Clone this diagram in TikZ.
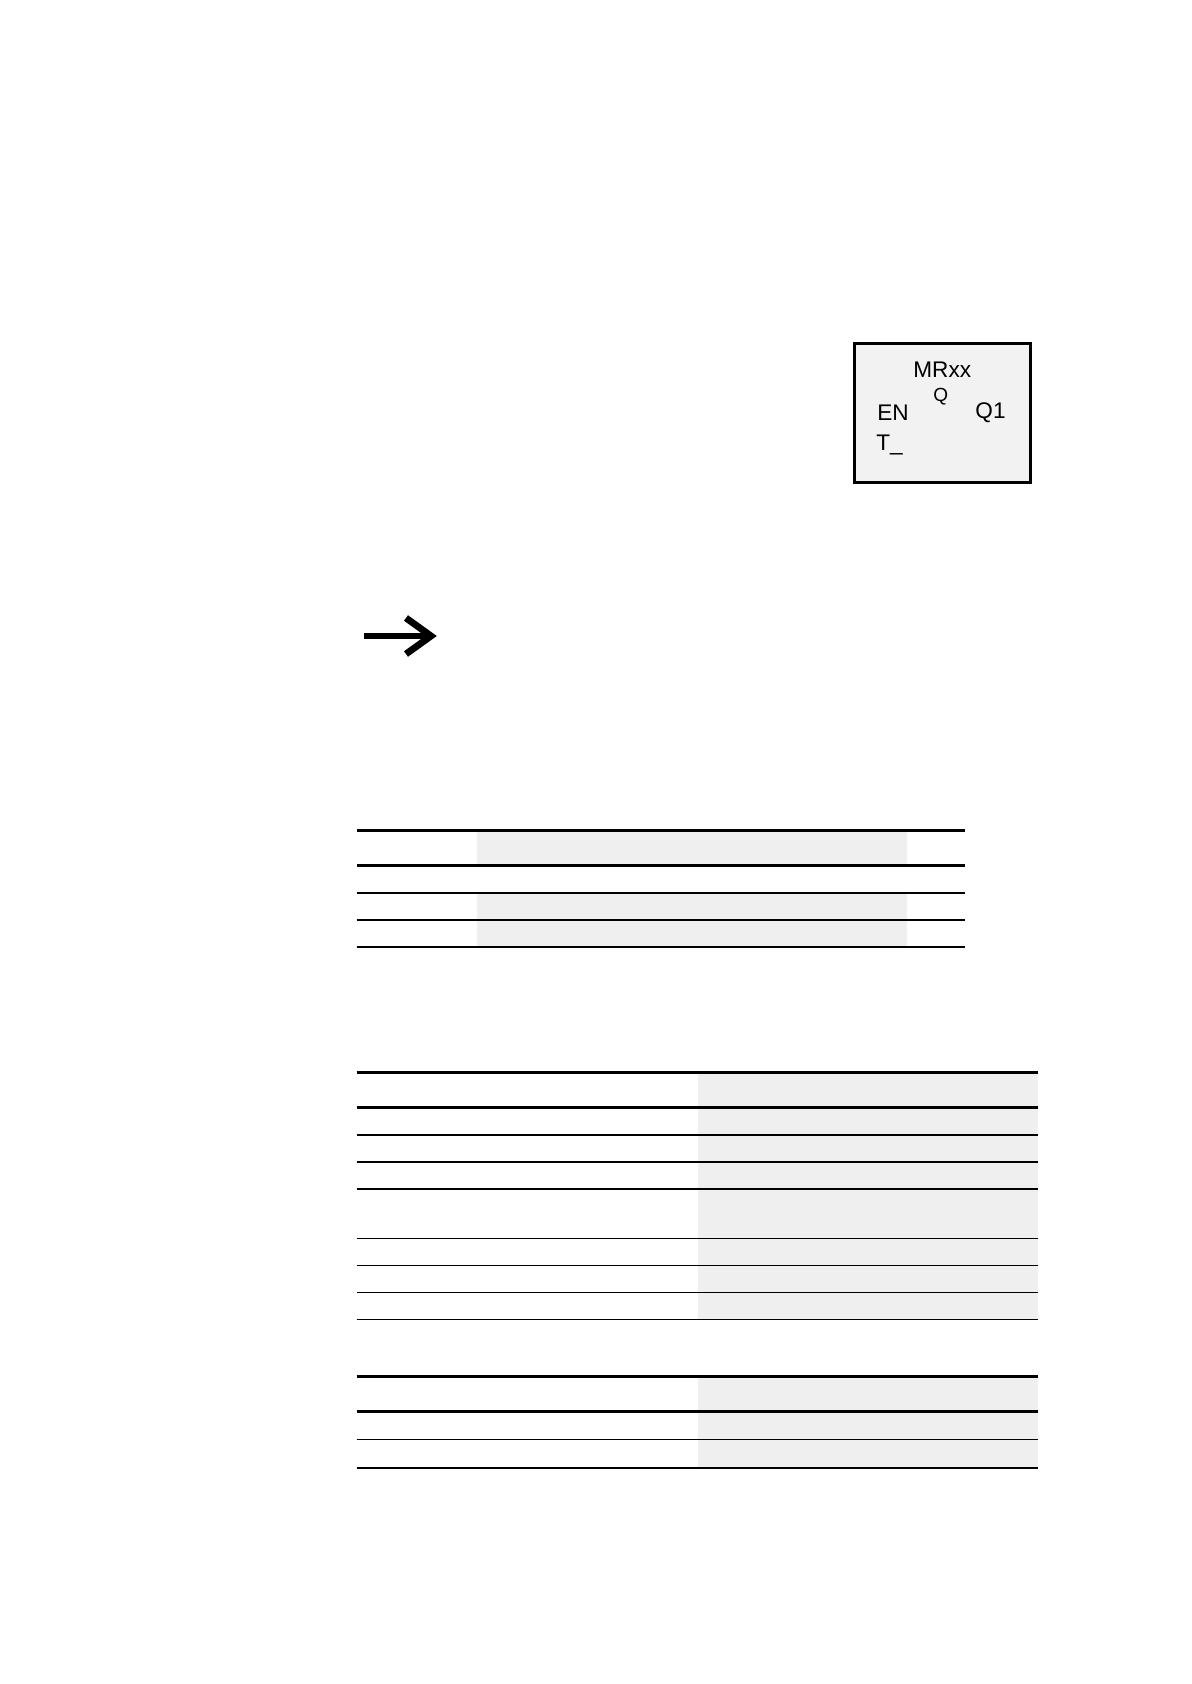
\documentclass[tikz,border=0pt]{standalone}
\usepackage{fontspec}
\setmainfont{Liberation Sans}
\definecolor{cellgray}{HTML}{EFEFEF}
\definecolor{boxgray}{HTML}{F2F2F2}
\tikzset{rule heavy/.style = {line width=1.6pt}}
\tikzset{rule mid/.style = {line width=1.1pt}}
\tikzset{rule light/.style = {line width=0.75pt}}
\tikzset{shade cell/.style = {fill=cellgray, draw=none}}
\tikzset{block label/.style = {inner sep=0pt, anchor=base west,
  font=\fontsize{11.3}{13}\selectfont}}

\begin{document}
\begin{tikzpicture}[x=0.5pt, y=-0.5pt]
  \useasboundingbox (0,0) rectangle (1191,1684);

  % function block
  \node[draw, fill=boxgray, line width=1.5pt, inner sep=0pt, anchor=north west,
    minimum width=88pt, minimum height=69.5pt] (mrbox) at (853,342) {};
  \node[block label] (mrname) at (913,378) {MRxx};
  \node[block label, font=\fontsize{9.5}{11}\selectfont] (mrq) at (933,401.7) {Q};
  \node[block label] (mren) at (877,420.7) {EN};
  \node[block label] (mrout) at (975,418.3) {Q1};
  \node[block label] (mrt) at (876,450.7) {T\_};

  % note arrow
  \draw[line width=3.4pt] (364,636) -- (429,636);
  \draw[line width=3.4pt, miter limit=10] (406,618) -- (431,636) -- (406,654);

  % table 1
  \fill[shade cell] (477,830.7) rectangle (907,865.3);
  \fill[shade cell] (477,892.7) rectangle (907,947);
  \foreach \y in {830.7, 865.3}
    \draw[rule heavy] (356.5,\y) -- (964.5,\y);
  \foreach \y in {892.7, 920, 947}
    \draw[rule mid] (356.5,\y) -- (964.5,\y);

  % table 2
  \fill[shade cell] (698,1072.3) rectangle (1037.5,1319.3);
  \foreach \y in {1072.3, 1107.3}
    \draw[rule heavy] (356.5,\y) -- (1037.5,\y);
  \foreach \y in {1135, 1161.7, 1188.7}
    \draw[rule mid] (356.5,\y) -- (1037.5,\y);
  \foreach \y in {1238.3, 1265.3, 1292.3, 1319.3}
    \draw[rule light] (356.5,\y) -- (1037.5,\y);

  % table 3
  \fill[shade cell] (698,1376.7) rectangle (1037.5,1467.7);
  \foreach \y in {1376.7, 1411.7}
    \draw[rule heavy] (356.5,\y) -- (1037.5,\y);
  \draw[rule light] (356.5,1439.3) -- (1037.5,1439.3);
  \draw[rule mid] (356.5,1467.7) -- (1037.5,1467.7);
\end{tikzpicture}
\end{document}
